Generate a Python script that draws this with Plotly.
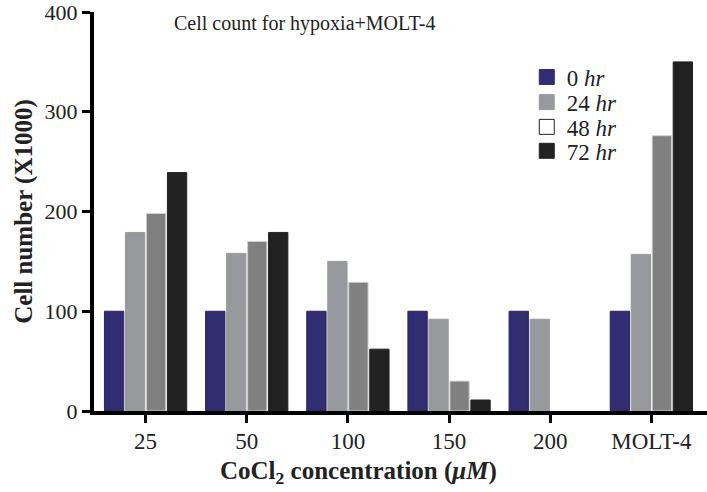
import plotly.graph_objects as go

categories = ["25", "50", "100", "150", "200", "MOLT-4"]
series_names = ["0 <i>hr</i>", "24 <i>hr</i>", "48 <i>hr</i>", "72 <i>hr</i>"]
hr0 = [100, 100, 100, 100, 100, 100]
hr24 = [179, 158, 150, 92, 92, 157]
hr48 = [198, 170, 129, 30, None, 276]
hr72 = [239, 179, 62, 11, None, 350]
y_ticks = [0, 100, 200, 300, 400]

values = [hr0, hr24, hr48, hr72]
bar_colors = ["#322c72", "#98999d", "#808080", "#222222"]
bar_lines = ["#2a2560", "#98999d", "#d0d0d0", "#222222"]
legend_fill = ["#322c72", "#98999d", "#ffffff", "#222222"]
legend_line = ["#322c72", "#98999d", "#222222", "#222222"]
legend_ids = ["legend", "legend2", "legend3", "legend4"]
legend_y = [0.837, 0.774, 0.712, 0.652]

FONT = "Liberation Serif"
fig = go.Figure()
for vals, c, lc in zip(values, bar_colors, bar_lines):
    fig.add_trace(go.Bar(x=categories, y=vals, marker=dict(color=c, line=dict(color=lc, width=1)),
                         showlegend=False))
for name, fc, lc, lid in zip(series_names, legend_fill, legend_line, legend_ids):
    fig.add_trace(go.Scatter(x=[None], y=[None], mode="markers", name=name, legend=lid,
                             marker=dict(symbol="square", size=15, color=fc, line=dict(color=lc, width=1))))

legend_common = dict(x=0.706, xanchor="left", yanchor="middle", font=dict(size=23, family=FONT),
                     bgcolor="rgba(0,0,0,0)", borderwidth=0)
layout_legends = {lid: dict(legend_common, y=ly) for lid, ly in zip(legend_ids, legend_y)}

fig.update_layout(
    width=707, height=492,
    margin=dict(l=94, r=0, t=12, b=81, autoexpand=False),
    paper_bgcolor="white", plot_bgcolor="white",
    barmode="group", bargap=0.17, bargroupgap=0.08,
    font=dict(family=FONT, color="#222222", size=23),
    annotations=[
        dict(text="Cell count for hypoxia+MOLT-4", xref="paper", yref="paper",
             x=0.127, y=0.972, xanchor="left", yanchor="middle", showarrow=False,
             font=dict(size=20, family=FONT, color="#222222")),
        dict(text="<b>CoCl<sub>2</sub> concentration (<i>μM</i>)</b>", xref="paper", yref="paper",
             x=0.432, y=-0.155, xanchor="center", yanchor="middle", showarrow=False,
             font=dict(size=25, family=FONT, color="#222222")),
    ],
    **layout_legends,
)
fig.update_xaxes(
    range=[-0.51, 5.55], showline=True, linecolor="black", linewidth=4,
    ticks="outside", ticklen=8, tickwidth=3, tickcolor="black", ticklabeloverflow="allow",
    tickfont=dict(size=23, family=FONT), showgrid=False, zeroline=False, automargin=False,
    ticklabelstandoff=-2,
)
fig.update_yaxes(
    range=[0, 400], tickvals=y_ticks, showline=True, linecolor="black", linewidth=4,
    ticks="outside", ticklen=8, tickwidth=3, tickcolor="black", ticklabeloverflow="allow",
    tickfont=dict(size=22, family=FONT), showgrid=False, zeroline=False, automargin=False,
    title=dict(text="<b>Cell number (X1000)</b>", font=dict(size=25, family=FONT), standoff=6),
)
fig.write_html("out.html", config={"displayModeBar": False},
               post_script="document.body.style.margin='0';document.body.style.overflow='hidden';")
